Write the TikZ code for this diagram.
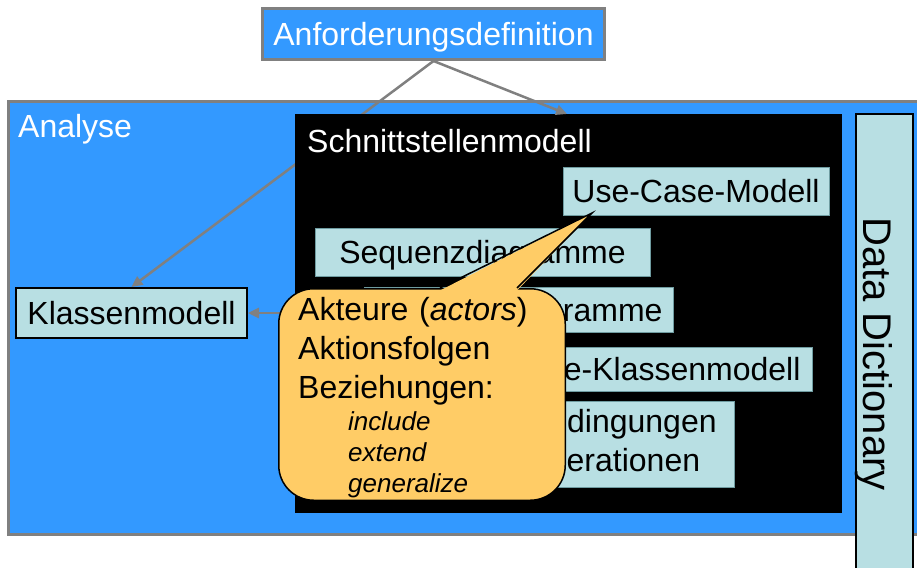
\documentclass[tikz,border=0pt]{standalone}
\usepackage{fontspec}
\setmainfont{Liberation Sans}
\usetikzlibrary{arrows.meta}
\definecolor{skyblue}{HTML}{3399FF}
\definecolor{paleteal}{HTML}{B8DFE3}
\definecolor{tealedge}{HTML}{6F9CA1}
\definecolor{notegold}{HTML}{FFCC66}
\definecolor{wiregray}{HTML}{808080}

\begin{document}
\begin{tikzpicture}[x=1pt,y=-1pt,
  txt/.style={font=\fontsize{32}{39}\selectfont},
  single/.style={text height=23pt, text depth=0pt, inner sep=0pt},
  modelbox/.style={txt, single, fill=paleteal, draw=tealedge, line width=0.75pt},
  framedbox/.style={txt, single, fill=paleteal, draw=black, line width=2pt},
  link/.style={draw=wiregray, line width=2.5pt, -{Triangle[length=11pt,width=10pt]}},
]
\useasboundingbox (0,0) rectangle (917,567);
\clip (0,0) rectangle (917,567);

% analysis area
\node[draw=wiregray, line width=3pt, fill=skyblue, minimum width=931.5pt,
      minimum height=433pt, inner sep=0pt] (analyse) at (474.25,318) {};
\node[txt, text=white, anchor=base west, inner sep=0pt] (analyselbl) at (18,137) {Analyse};

% requirements box on top
\node[txt, single, text=white, fill=skyblue, draw=wiregray, line width=3pt,
      minimum width=342pt, minimum height=51pt] (anf) at (433.5,34) {Anforderungsdefinition};

% class model
\node[framedbox, minimum width=231pt, minimum height=50pt] (klassen) at (131.5,313) {Klassenmodell};

% this link runs behind the interface model
\draw[link] (anf.south) -- (klassen.north);

% interface model with its parts
\node[fill=black, minimum width=547pt, minimum height=399pt, inner sep=0pt] (schnitt) at (568.5,313.5) {};
\node[txt, text=white, anchor=base west, inner sep=0pt] (schnittlbl) at (307,152) {Schnittstellenmodell};

\node[modelbox, minimum width=266pt, minimum height=48pt] (uc) at (696,191) {Use-Case-Modell};
\node[modelbox, minimum width=335pt, minimum height=48pt] (seq) at (482.5,252) {Sequenzdiagramme};
\node[modelbox, minimum width=309pt, minimum height=45pt] (akt) at (518.5,309.5) {Aktivitätsdiagramme};
\node[modelbox, minimum width=384pt, minimum height=44pt] (uck) at (620,369) {Use-Case-Klassenmodell};
\node[txt, fill=paleteal, draw=tealedge, line width=0.75pt, text width=200pt, align=left,
      inner xsep=10pt, inner ysep=0pt, minimum height=86pt] (bed) at (624,444)
  {\hspace*{4pt}Bedingungen\\Operationen};

\coordinate (ucentry) at (567,114);
\draw[link] (anf.south) -- (ucentry);
\draw[link] (schnitt.west |- klassen.east) -- (klassen.east);

% speech bubble
\node[fill=notegold, draw=black, line width=1.5pt, rounded corners=35pt,
      minimum width=286.5pt, minimum height=211.5pt, inner sep=0pt] (note) at (422,394.5) {};
\coordinate (notetip) at (592,213);
\coordinate (notebaseL) at (440,288);
\coordinate (notebaseR) at (517,288);
\fill[notegold] (440,290.5) -- (notetip) -- (517,290.5) -- cycle;
\draw[line width=1.5pt] (notebaseL) -- (notetip) -- (notebaseR);

\node[txt, anchor=base west, inner sep=0pt, text width=250pt, align=left] (notemain) at (298,320)
  {Akteure (\textit{actors})\\Aktionsfolgen\\Beziehungen:};
\node[font=\fontsize{26}{31}\selectfont\itshape, anchor=base west, inner sep=0pt,
      text width=150pt, align=left] (noterel) at (348,430) {include\\extend\\generalize};

% data dictionary column
\node[fill=paleteal, draw=black, line width=2pt, minimum width=57pt, minimum height=506pt,
      inner sep=0pt] (dd) at (884.5,367) {};
\node[font=\fontsize{40}{48}\selectfont, rotate=-90, anchor=base, inner sep=0pt] (ddlbl) at (863,354) {Data Dictionary};
\end{tikzpicture}
\end{document}
